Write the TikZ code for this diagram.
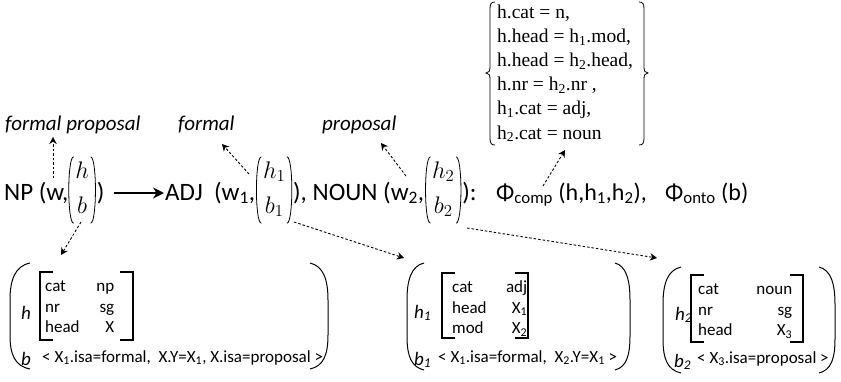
\documentclass[tikz,border=0pt]{standalone}
\usepackage{fix-cm}
\usepackage{fontspec}
\setmainfont{Carlito}
\newfontfamily\tnr{Liberation Serif}
\usetikzlibrary{arrows.meta,calc}
\newcommand{\mtxc}[2]{\begin{tabular}{@{}c@{}}$#1$\\[7pt]$#2$\end{tabular}}
\newcommand{\mparens}[1]{%
  \draw[line width=0.8pt] ([xshift=5pt]#1.north west) .. controls ([xshift=-1.5pt]#1.north west) and ([xshift=-1.5pt]#1.south west) .. ([xshift=5pt]#1.south west);
  \draw[line width=0.8pt] ([xshift=-5pt]#1.north east) .. controls ([xshift=1.5pt]#1.north east) and ([xshift=1.5pt]#1.south east) .. ([xshift=-5pt]#1.south east);}
% big parenthesis: #1 = x of ends, #2 = extreme x, #3 = top y, #4 = bottom y
\newcommand{\bigparen}[4]{%
  \draw[par] (#1,#3) .. controls ($(#2,#3)!0.25!(#1,#3)+(0,3)$) and ($(#2,#3)+(0,17)$) .. ($(#2,#3)+(0,37)$)
    -- ($(#2,#4)+(0,-34)$) .. controls ($(#2,#4)+(0,-14)$) and ($(#2,#4)!0.25!(#1,#4)+(0,-3)$) .. (#1,#4);}
\begin{document}
\begin{tikzpicture}[x=1pt,y=-1pt,
  txt/.style={inner sep=0, anchor=base west, font=\fontsize{25}{29}\selectfont},
  txs/.style={inner sep=0, anchor=base west, font=\fontsize{24}{28}\selectfont},
  mx/.style={inner ysep=0, inner xsep=6.5pt, minimum height=66pt, anchor=west, font=\fontsize{24}{28}\selectfont},
  lab/.style={inner sep=0, anchor=base west, font=\fontsize{21}{25}\selectfont\itshape},
  feat/.style={inner sep=0, anchor=west, font=\fontsize{17}{20.5}\selectfont},
  blab/.style={inner sep=0, anchor=base west, font=\fontsize{19}{22}\selectfont\itshape},
  dasharr/.style={dash pattern=on 2.5pt off 2pt, line width=0.9pt, -{Stealth[length=7pt,width=7.5pt]}},
  brk/.style={line width=1.1pt},
  par/.style={line width=1pt},
  brace/.style={line width=0.8pt}]
\useasboundingbox (0,0) rectangle (841,381);

% ---------- main line ----------
\coordinate (mid) at (0,190);
\node[txt] (t1) at (4,200) {NP (w,};
\node[mx] (m0) at (t1.east |- mid) {\mtxc{h}{b}};
\node[txt] (t2) at ($(m0.east |- t1.base)+(1,0)$) {)};
\node[txt] (t3) at (165,200) {ADJ\ \ (w\textsubscript{1},};
\node[mx] (m1) at ($(t3.east |- mid)+(1,0)$) {\mtxc{h_1}{b_1}};
\node[txt] (t4) at ($(m1.east |- t1.base)+(1,0)$) {), NOUN (w\textsubscript{2},};
\node[mx] (m2) at ($(t4.east |- mid)+(1,0)$) {\mtxc{h_2}{b_2}};
\node[txt] (t5) at ($(m2.east |- t1.base)+(1,0)$) {):};
\node[txs] (t6) at (496,200) {Φ\textsubscript{comp} (h,h\textsubscript{1},h\textsubscript{2}),};
\node[txs] (t7) at (665,200) {Φ\textsubscript{onto} (b)};
\mparens{m0}
\mparens{m1}
\mparens{m2}
\draw[line width=2.2pt, -{Stealth[length=11pt,width=11pt]}] ($(t2.east |- 0,193)+(9,0)$) -- ($(t3.west |- 0,193)+(-1,0)$);

% ---------- labels ----------
\node[lab] (fp) at (5,130) {formal proposal};
\node[lab] (lf) at (178,130) {formal};
\node[lab] (lp) at (322,130) {proposal};

% ---------- constraint set ----------
\node[inner sep=0, anchor=base west, font=\tnr\fontsize{19.5}{24.2}\selectfont] (cs) at (497,18)
  {\begin{tabular}[t]{@{}l@{}}
   h.cat = n,\\
   h.head = h\textsubscript{1}.mod,\\
   h.head = h\textsubscript{2}.head,\\
   h.nr = h\textsubscript{2}.nr ,\\
   h\textsubscript{1}.cat = adj,\\
   h\textsubscript{2}.cat = noun
   \end{tabular}};
\draw[brace] (495,2) .. controls (491,2) and (490,4) .. (490,9) -- (490,67)
  .. controls (490,71) and (489,73) .. (486,73)
  .. controls (489,73) and (490,75) .. (490,79) -- (490,138)
  .. controls (490,143) and (491,145) .. (495,145);
\draw[brace] (639,2) .. controls (643,2) and (644,4) .. (644,9) -- (644,67)
  .. controls (644,71) and (645,73) .. (648,73)
  .. controls (645,73) and (644,75) .. (644,79) -- (644,138)
  .. controls (644,143) and (643,145) .. (639,145);

% ---------- box 1 ----------
\node[blab] (bh0) at (21,319) {h};
\node[feat] (f0) at (45,308) {\begin{tabular*}{69pt}{@{}l@{\extracolsep{\fill}}r@{}}cat & np\\ nr & sg\\ head & X\end{tabular*}};
\node[blab] (bb0) at (21,365) {b};
\node[feat, anchor=base west] (bl0) at (42,362) {< X\textsubscript{1}.isa=formal,\ \ X.Y=X\textsubscript{1}, X.isa=proposal >};
\draw[brk] (53,272) -- (40,272) -- (40,340) -- (53,340);
\draw[brk] (120,272) -- (133,272) -- (133,340) -- (120,340);
\bigparen{30}{10}{263}{369}
\bigparen{310}{328}{263}{369}

% ---------- box 2 ----------
\node[blab] (bh1) at (414,318) {h\textsubscript{1}};
\node[feat] (f1) at (452,309) {\begin{tabular*}{75pt}{@{}l@{\extracolsep{\fill}}r@{}}cat & adj\\ head & X\textsubscript{1}\\ mod & X\textsubscript{2}\end{tabular*}};
\node[blab] (bb1) at (414,365) {b\textsubscript{1}};
\node[feat, anchor=base west] (bl1) at (438,362) {< X\textsubscript{1}.isa=formal,\ \ X\textsubscript{2}.Y=X\textsubscript{1} >};
\draw[brk] (455,273) -- (442,273) -- (442,338) -- (455,338);
\draw[brk] (515,273) -- (528,273) -- (528,338) -- (515,338);
\bigparen{424}{407}{263}{370}
\bigparen{615}{630}{263}{370}

% ---------- box 3 ----------
\node[blab] (bh2) at (675,320) {h\textsubscript{2}};
\node[feat] (f2) at (698,311) {\begin{tabular*}{94pt}{@{}l@{\extracolsep{\fill}}r@{}}cat & noun\\ nr & sg\hspace{8pt}\\ head & X\textsubscript{3}\hspace{3pt}\end{tabular*}};
\node[blab] (bb2) at (674,367) {b\textsubscript{2}};
\node[feat, anchor=base west] (bl2) at (697,363) {<\ X\textsubscript{3}.isa=proposal\ >};
\draw[brk] (704,275) -- (691,275) -- (691,342) -- (704,342);
\draw[brk] (790,275) -- (803,275) -- (803,342) -- (790,342);
\bigparen{681}{663}{267}{373}
\bigparen{819}{835}{267}{373}

% ---------- dashed connectors ----------
\coordinate (a1s) at (53,178);  \coordinate (a1e) at (53,137);
\coordinate (a2s) at (81,222);  \coordinate (a2e) at (61,255);
\coordinate (a3s) at (249,174); \coordinate (a3e) at (222,144);
\coordinate (a4s) at (406,176); \coordinate (a4e) at (381,143);
\coordinate (a5s) at (543,186); \coordinate (a5e) at (565,150);
\coordinate (a6s) at (294,222); \coordinate (a6e) at (404,258);
\coordinate (a7s) at (467,228); \coordinate (a7e) at (657,258);
\foreach \i in {1,...,7} {\draw[dasharr] (a\i s) -- (a\i e);}
\end{tikzpicture}
\end{document}
